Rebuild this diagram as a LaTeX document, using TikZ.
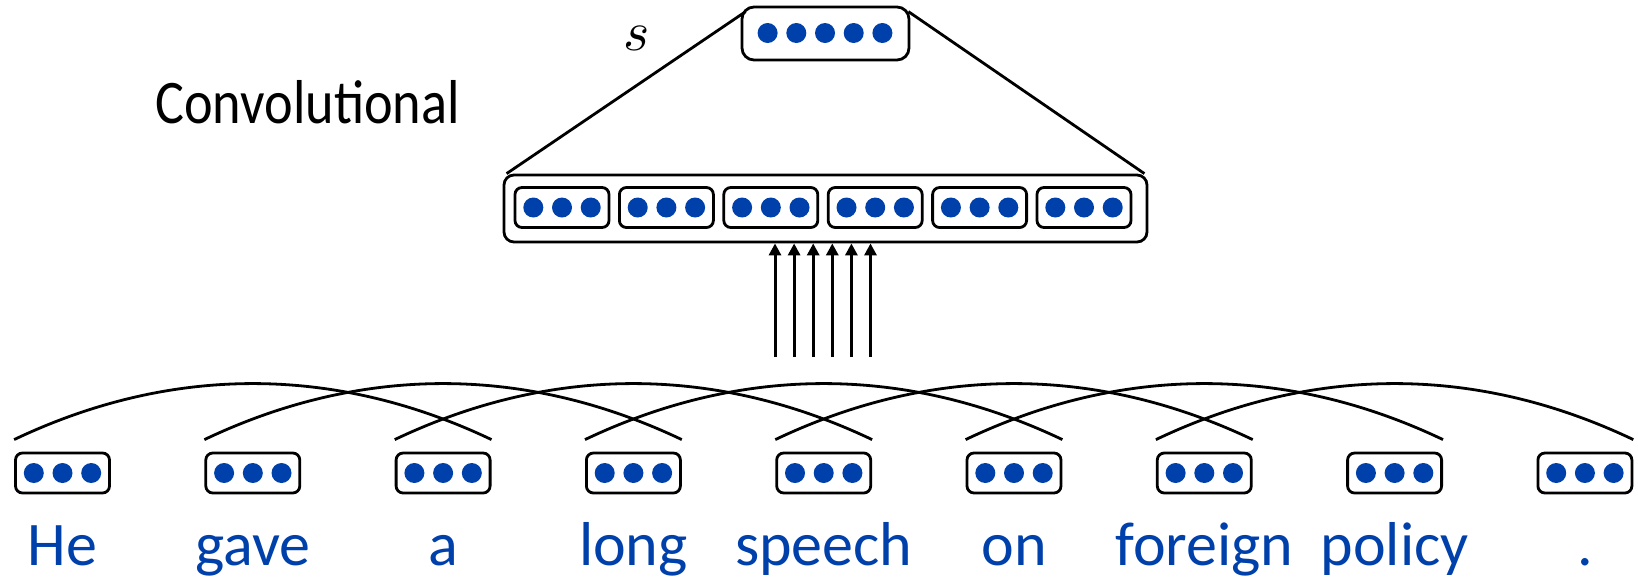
\documentclass[tikz,border=0pt]{standalone}
\usepackage{fontspec}
\usepackage{graphicx}
\setmainfont{Carlito}
\usetikzlibrary{arrows.meta}
\definecolor{dotblue}{RGB}{0,64,170}
\begin{document}
\begin{tikzpicture}[x=0.5pt,y=-0.5pt,
  vecbox/.style={draw=black, line width=1.4pt, rounded corners=3.5pt, minimum width=47pt, minimum height=20pt, inner sep=0pt},
  bigbox/.style={draw=black, line width=1.4pt, rounded corners=5pt, inner sep=0pt},
  dot/.style={circle, fill=dotblue, minimum size=10pt, inner sep=0pt},
  word/.style={text=dotblue, font=\fontsize{31}{31}\selectfont, anchor=base, inner sep=0pt},
  link/.style={line width=1.4pt},
  up/.style={line width=1.5pt, -{Triangle[length=6pt,width=6pt]}}]
\useasboundingbox (0,0) rectangle (1638,579);

% top vector s
\node[bigbox, rounded corners=6pt, minimum width=83.5pt, minimum height=26.5pt] (top) at (825.5,33.5) {};
\foreach \k/\n in {-2/a,-1/b,0/c,1/d,2/e}
  \node[dot] (top\n) at ({825+28.7*\k},33) {};
\node[inner sep=0pt] (s) at (637,38) {\scalebox{2.8}{$s$}};
\node[anchor=base west, inner sep=0pt, font=\fontsize{31}{31}\selectfont] (conv) at (155,123) {\scalebox{0.875}[1]{Convolutional}};

% convolutional layer
\node[bigbox, minimum width=321.5pt, minimum height=33.5pt] (layer) at (825.5,208.5) {};
\foreach \j in {0,...,5} {
  \node[vecbox] (c\j) at ({562+104.4*\j},207.5) {};
  \foreach \k/\n in {-1/a,0/b,1/c}
    \node[dot] (c\j\n) at ([xshift=\k*14.35pt]c\j.center) {};
}
\draw[link] ([shift={(5,6)}]top.north west) -- ([shift={(4,0)}]layer.north west);
\draw[link] ([shift={(-2,6)}]top.north east) -- ([shift={(-4,0)}]layer.north east);

% arrows
\foreach \k in {0,...,5} {
  \coordinate (a\k) at ({775+19.1*\k},357);
  \draw[up] (a\k) -- (a\k |- layer.south);
}

% word vectors
\foreach \i/\w in {0/He,1/gave,2/a,3/long,4/speech,5/on,6/foreign,7/policy,8/.} {
  \node[vecbox] (w\i) at ({62.5+190.3*\i},473) {};
  \foreach \k/\n in {-1/a,0/b,1/c}
    \node[dot] (w\i\n) at ([xshift=\k*14.35pt]w\i.center) {};
  \node[word] (t\i) at ({62.5+190.3*\i},565) {\w};
}

% arcs over word triples
\foreach \i [evaluate=\i as \j using int(\i+2)] in {0,...,6}
  \draw[link] ([yshift=6pt]w\i.north west) .. controls +(157,-74.7) and +(-157,-74.7) .. ([yshift=6pt]w\j.north east);
\end{tikzpicture}
\end{document}
